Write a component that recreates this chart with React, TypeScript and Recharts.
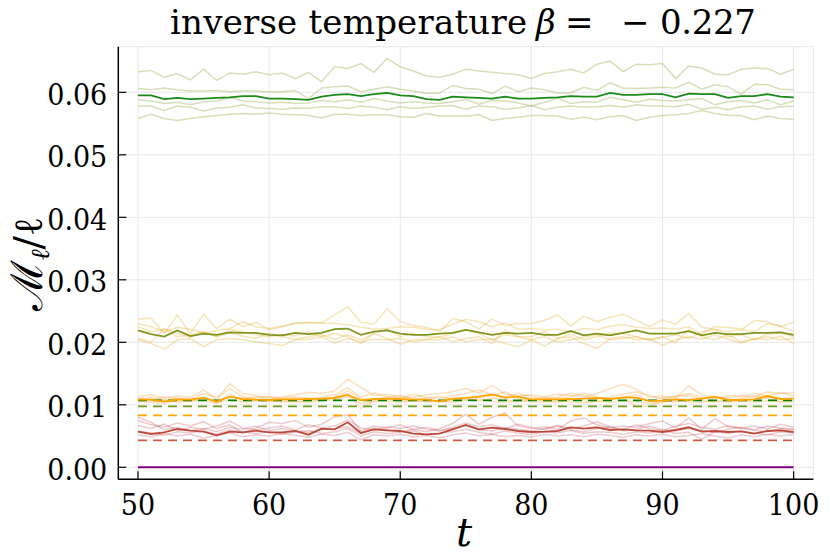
import React from 'react';
import { LineChart, Line, XAxis, YAxis, CartesianGrid, ReferenceLine } from 'recharts';

const T = [
  50, 51, 52, 53, 54, 55, 56, 57, 58, 59,
  60, 61, 62, 63, 64, 65, 66, 67, 68, 69,
  70, 71, 72, 73, 74, 75, 76, 77, 78, 79,
  80, 81, 82, 83, 84, 85, 86, 87, 88, 89,
  90, 91, 92, 93, 94, 95, 96, 97, 98, 99, 100,
];

// green group
const G0 = [
  0.0595, 0.0595, 0.0589, 0.0591, 0.0589, 0.0590, 0.0591, 0.0592, 0.0594, 0.0594,
  0.0590, 0.0590, 0.0589, 0.0588, 0.0593, 0.0596, 0.0597, 0.0594, 0.0597, 0.0599,
  0.0595, 0.0594, 0.0589, 0.0588, 0.0593, 0.0592, 0.0591, 0.0590, 0.0593, 0.0590,
  0.0590, 0.0591, 0.0592, 0.0594, 0.0593, 0.0593, 0.0599, 0.0596, 0.0596, 0.0597,
  0.0597, 0.0592, 0.0598, 0.0597, 0.0597, 0.0591, 0.0594, 0.0594, 0.0597, 0.0593, 0.0592,
];
const G1 = [
  0.0633, 0.0635, 0.0624, 0.0630, 0.0620, 0.0637, 0.0619, 0.0631, 0.0629, 0.0633,
  0.0628, 0.0631, 0.0622, 0.0632, 0.0617, 0.0641, 0.0638, 0.0646, 0.0632, 0.0654,
  0.0641, 0.0634, 0.0626, 0.0624, 0.0629, 0.0637, 0.0634, 0.0632, 0.0630, 0.0628,
  0.0622, 0.0630, 0.0633, 0.0637, 0.0631, 0.0645, 0.0650, 0.0633, 0.0645, 0.0644,
  0.0646, 0.0622, 0.0642, 0.0639, 0.0629, 0.0628, 0.0637, 0.0639, 0.0638, 0.0629, 0.0637,
];
const G2 = [
  0.0606, 0.0604, 0.0607, 0.0604, 0.0602, 0.0602, 0.0603, 0.0601, 0.0602, 0.0602,
  0.0601, 0.0601, 0.0603, 0.0590, 0.0607, 0.0609, 0.0610, 0.0601, 0.0605, 0.0609,
  0.0605, 0.0602, 0.0598, 0.0599, 0.0611, 0.0606, 0.0605, 0.0598, 0.0610, 0.0601,
  0.0607, 0.0604, 0.0599, 0.0599, 0.0608, 0.0603, 0.0615, 0.0607, 0.0606, 0.0607,
  0.0608, 0.0607, 0.0616, 0.0605, 0.0612, 0.0609, 0.0597, 0.0613, 0.0612, 0.0605, 0.0604,
];
const G3 = [
  0.0588, 0.0586, 0.0582, 0.0584, 0.0580, 0.0585, 0.0586, 0.0592, 0.0586, 0.0585,
  0.0583, 0.0584, 0.0582, 0.0583, 0.0587, 0.0585, 0.0588, 0.0584, 0.0590, 0.0586,
  0.0583, 0.0585, 0.0583, 0.0582, 0.0585, 0.0589, 0.0581, 0.0587, 0.0586, 0.0583,
  0.0578, 0.0584, 0.0591, 0.0582, 0.0585, 0.0584, 0.0592, 0.0588, 0.0584, 0.0589,
  0.0587, 0.0586, 0.0588, 0.0590, 0.0580, 0.0585, 0.0587, 0.0583, 0.0588, 0.0580, 0.0586,
];
const G4 = [
  0.0578, 0.0578, 0.0571, 0.0578, 0.0576, 0.0570, 0.0575, 0.0576, 0.0580, 0.0575,
  0.0574, 0.0573, 0.0575, 0.0574, 0.0577, 0.0577, 0.0574, 0.0578, 0.0576, 0.0572,
  0.0577, 0.0574, 0.0576, 0.0578, 0.0579, 0.0573, 0.0578, 0.0577, 0.0573, 0.0575,
  0.0579, 0.0572, 0.0576, 0.0578, 0.0576, 0.0577, 0.0579, 0.0576, 0.0580, 0.0578,
  0.0578, 0.0577, 0.0581, 0.0573, 0.0576, 0.0572, 0.0577, 0.0578, 0.0573, 0.0577, 0.0578,
];
const G5 = [
  0.0558, 0.0565, 0.0558, 0.0555, 0.0558, 0.0561, 0.0563, 0.0565, 0.0566, 0.0565,
  0.0567, 0.0565, 0.0564, 0.0563, 0.0559, 0.0565, 0.0565, 0.0563, 0.0564, 0.0564,
  0.0561, 0.0560, 0.0566, 0.0562, 0.0562, 0.0562, 0.0564, 0.0555, 0.0558, 0.0560,
  0.0563, 0.0563, 0.0562, 0.0557, 0.0560, 0.0556, 0.0561, 0.0563, 0.0555, 0.0560,
  0.0563, 0.0564, 0.0566, 0.0571, 0.0566, 0.0563, 0.0563, 0.0556, 0.0562, 0.0558, 0.0557,
];

// olive group
const O0 = [
  0.0219, 0.0213, 0.0209, 0.0219, 0.0210, 0.0214, 0.0212, 0.0216, 0.0215, 0.0215,
  0.0212, 0.0211, 0.0215, 0.0213, 0.0215, 0.0221, 0.0222, 0.0212, 0.0217, 0.0219,
  0.0214, 0.0212, 0.0212, 0.0214, 0.0215, 0.0220, 0.0216, 0.0212, 0.0215, 0.0214,
  0.0215, 0.0212, 0.0212, 0.0218, 0.0211, 0.0214, 0.0211, 0.0215, 0.0219, 0.0214,
  0.0214, 0.0214, 0.0218, 0.0211, 0.0215, 0.0213, 0.0213, 0.0215, 0.0215, 0.0216, 0.0212,
];
const O1 = [
  0.0237, 0.0239, 0.0214, 0.0244, 0.0214, 0.0245, 0.0222, 0.0237, 0.0225, 0.0232,
  0.0220, 0.0225, 0.0231, 0.0231, 0.0231, 0.0244, 0.0257, 0.0232, 0.0229, 0.0254,
  0.0233, 0.0227, 0.0224, 0.0217, 0.0238, 0.0233, 0.0221, 0.0237, 0.0227, 0.0230,
  0.0230, 0.0235, 0.0244, 0.0226, 0.0242, 0.0233, 0.0240, 0.0245, 0.0235, 0.0225,
  0.0236, 0.0229, 0.0246, 0.0224, 0.0221, 0.0217, 0.0220, 0.0235, 0.0233, 0.0225, 0.0232,
];
const O2 = [
  0.0230, 0.0225, 0.0217, 0.0224, 0.0221, 0.0215, 0.0219, 0.0222, 0.0233, 0.0225,
  0.0222, 0.0226, 0.0230, 0.0232, 0.0231, 0.0230, 0.0228, 0.0224, 0.0221, 0.0222,
  0.0225, 0.0224, 0.0221, 0.0220, 0.0229, 0.0237, 0.0233, 0.0225, 0.0231, 0.0221,
  0.0222, 0.0220, 0.0221, 0.0217, 0.0222, 0.0220, 0.0226, 0.0228, 0.0224, 0.0222,
  0.0223, 0.0221, 0.0225, 0.0213, 0.0225, 0.0224, 0.0221, 0.0217, 0.0230, 0.0226, 0.0217,
];
const O3 = [
  0.0206, 0.0201, 0.0222, 0.0214, 0.0208, 0.0217, 0.0209, 0.0215, 0.0210, 0.0206,
  0.0215, 0.0209, 0.0205, 0.0209, 0.0212, 0.0205, 0.0212, 0.0204, 0.0214, 0.0206,
  0.0197, 0.0204, 0.0205, 0.0209, 0.0201, 0.0206, 0.0209, 0.0198, 0.0220, 0.0209,
  0.0204, 0.0209, 0.0201, 0.0204, 0.0208, 0.0212, 0.0204, 0.0206, 0.0209, 0.0203,
  0.0209, 0.0199, 0.0221, 0.0209, 0.0204, 0.0212, 0.0201, 0.0205, 0.0209, 0.0204, 0.0206,
];
const O4 = [
  0.0204, 0.0198, 0.0189, 0.0204, 0.0206, 0.0193, 0.0204, 0.0206, 0.0204, 0.0201,
  0.0198, 0.0195, 0.0204, 0.0205, 0.0209, 0.0199, 0.0206, 0.0201, 0.0205, 0.0204,
  0.0206, 0.0201, 0.0204, 0.0204, 0.0209, 0.0201, 0.0204, 0.0205, 0.0198, 0.0193,
  0.0204, 0.0194, 0.0206, 0.0209, 0.0198, 0.0190, 0.0206, 0.0209, 0.0204, 0.0206,
  0.0195, 0.0204, 0.0209, 0.0205, 0.0212, 0.0205, 0.0199, 0.0206, 0.0204, 0.0210, 0.0198,
];
const O5 = [
  0.0225, 0.0217, 0.0221, 0.0209, 0.0212, 0.0217, 0.0209, 0.0221, 0.0217, 0.0212,
  0.0209, 0.0212, 0.0210, 0.0217, 0.0209, 0.0214, 0.0209, 0.0198, 0.0215, 0.0221,
  0.0209, 0.0214, 0.0209, 0.0208, 0.0214, 0.0220, 0.0214, 0.0204, 0.0212, 0.0209,
  0.0209, 0.0217, 0.0206, 0.0213, 0.0204, 0.0209, 0.0215, 0.0214, 0.0209, 0.0204,
  0.0208, 0.0212, 0.0206, 0.0217, 0.0220, 0.0209, 0.0212, 0.0204, 0.0213, 0.0215, 0.0209,
];

// orange group
const Y0 = [
  0.01082, 0.01082, 0.01050, 0.01082, 0.01082, 0.01114, 0.01050, 0.01130, 0.01093, 0.01082,
  0.01077, 0.01088, 0.01088, 0.01093, 0.01098, 0.01109, 0.01157, 0.01072, 0.01093, 0.01098,
  0.01093, 0.01082, 0.01082, 0.01056, 0.01098, 0.01110, 0.01130, 0.01168, 0.01114, 0.01130,
  0.01088, 0.01088, 0.01088, 0.01093, 0.01098, 0.01109, 0.01093, 0.01120, 0.01114, 0.01060,
  0.01066, 0.01088, 0.01077, 0.01098, 0.01130, 0.01077, 0.01077, 0.01088, 0.01141, 0.01093, 0.01098,
];
const Y1 = [
  0.0113, 0.0116, 0.0110, 0.0114, 0.0112, 0.0124, 0.0108, 0.0134, 0.0118, 0.0115,
  0.0111, 0.0113, 0.0116, 0.0120, 0.0118, 0.0122, 0.0141, 0.0128, 0.0115, 0.0117,
  0.0113, 0.0112, 0.0116, 0.0118, 0.0121, 0.0126, 0.0119, 0.0131, 0.0117, 0.0114,
  0.0116, 0.0113, 0.0117, 0.0115, 0.0112, 0.0118, 0.0126, 0.0133, 0.0125, 0.0112,
  0.0114, 0.0111, 0.0130, 0.0116, 0.0113, 0.0111, 0.0115, 0.0112, 0.0121, 0.0118, 0.0119,
];
const Y2 = [
  0.0110, 0.0108, 0.0113, 0.0110, 0.0109, 0.0118, 0.0112, 0.0126, 0.0113, 0.0110,
  0.0114, 0.0109, 0.0111, 0.0108, 0.0113, 0.0116, 0.0127, 0.0112, 0.0119, 0.0113,
  0.0110, 0.0117, 0.0112, 0.0110, 0.0114, 0.0118, 0.0124, 0.0116, 0.0112, 0.0118,
  0.0113, 0.0110, 0.0112, 0.0119, 0.0115, 0.0110, 0.0113, 0.0117, 0.0121, 0.0115,
  0.0109, 0.0114, 0.0118, 0.0112, 0.0109, 0.0115, 0.0113, 0.0118, 0.0114, 0.0120, 0.0114,
];
const Y3 = [
  0.0106, 0.0104, 0.0102, 0.0107, 0.0105, 0.0112, 0.0104, 0.0117, 0.0106, 0.0108,
  0.0105, 0.0107, 0.0104, 0.0106, 0.0109, 0.0111, 0.0118, 0.0094, 0.0106, 0.0109,
  0.0107, 0.0105, 0.0108, 0.0104, 0.0107, 0.0110, 0.0106, 0.0111, 0.0108, 0.0105,
  0.0109, 0.0106, 0.0104, 0.0108, 0.0106, 0.0105, 0.0109, 0.0111, 0.0097, 0.0098,
  0.0106, 0.0104, 0.0109, 0.0107, 0.0104, 0.0108, 0.0106, 0.0109, 0.0111, 0.0105, 0.0107,
];
const Y4 = [
  0.0109, 0.0112, 0.0106, 0.0111, 0.0108, 0.0110, 0.0106, 0.0113, 0.0110, 0.0113,
  0.0109, 0.0111, 0.0113, 0.0111, 0.0106, 0.0113, 0.0122, 0.0110, 0.0108, 0.0112,
  0.0115, 0.0109, 0.0111, 0.0113, 0.0109, 0.0108, 0.0112, 0.0114, 0.0121, 0.0110,
  0.0107, 0.0112, 0.0110, 0.0113, 0.0119, 0.0112, 0.0108, 0.0112, 0.0116, 0.0107,
  0.0111, 0.0113, 0.0115, 0.0109, 0.0112, 0.0106, 0.0110, 0.0114, 0.0112, 0.0109, 0.0111,
];
const Y5 = [
  0.0104, 0.0107, 0.0109, 0.0104, 0.0106, 0.0107, 0.0102, 0.0109, 0.0104, 0.0106,
  0.0107, 0.0104, 0.0106, 0.0104, 0.0107, 0.0108, 0.0113, 0.0102, 0.0105, 0.0106,
  0.0104, 0.0107, 0.0104, 0.0106, 0.0104, 0.0107, 0.0109, 0.0105, 0.0104, 0.0107,
  0.0105, 0.0104, 0.0107, 0.0105, 0.0103, 0.0106, 0.0104, 0.0107, 0.0105, 0.0102,
  0.0104, 0.0107, 0.0105, 0.0104, 0.0107, 0.0104, 0.0106, 0.0104, 0.0107, 0.0105, 0.0104,
];

// red group
const R0 = [
  0.00570, 0.00533, 0.00560, 0.00613, 0.00586, 0.00570, 0.00512, 0.00570, 0.00560, 0.00586,
  0.00560, 0.00560, 0.00581, 0.00522, 0.00618, 0.00607, 0.00720, 0.00549, 0.00607, 0.00591,
  0.00581, 0.00538, 0.00527, 0.00538, 0.00607, 0.00677, 0.00608, 0.00634, 0.00613, 0.00581,
  0.00565, 0.00570, 0.00581, 0.00640, 0.00618, 0.00640, 0.00597, 0.00608, 0.00592, 0.00586,
  0.00565, 0.00597, 0.00640, 0.00570, 0.00581, 0.00565, 0.00576, 0.00538, 0.00581, 0.00592, 0.00565,
];
const R1 = [
  0.0075, 0.0068, 0.0064, 0.0071, 0.0066, 0.0073, 0.0062, 0.0068, 0.0055, 0.0063,
  0.0072, 0.0070, 0.0075, 0.0064, 0.0069, 0.0081, 0.0084, 0.0058, 0.0066, 0.0063,
  0.0068, 0.0060, 0.0057, 0.0062, 0.0070, 0.0085, 0.0069, 0.0080, 0.0087, 0.0066,
  0.0062, 0.0065, 0.0061, 0.0074, 0.0079, 0.0068, 0.0063, 0.0066, 0.0064, 0.0070,
  0.0074, 0.0063, 0.0079, 0.0061, 0.0078, 0.0065, 0.0063, 0.0066, 0.0061, 0.0069, 0.0064,
];
const R2 = [
  0.0067, 0.0062, 0.0069, 0.0059, 0.0064, 0.0061, 0.0066, 0.0074, 0.0063, 0.0060,
  0.0063, 0.0066, 0.0060, 0.0068, 0.0063, 0.0066, 0.0076, 0.0063, 0.0060, 0.0065,
  0.0062, 0.0066, 0.0061, 0.0058, 0.0064, 0.0071, 0.0065, 0.0068, 0.0062, 0.0069,
  0.0064, 0.0060, 0.0067, 0.0062, 0.0066, 0.0073, 0.0065, 0.0060, 0.0068, 0.0062,
  0.0059, 0.0066, 0.0070, 0.0064, 0.0061, 0.0067, 0.0062, 0.0060, 0.0066, 0.0063, 0.0061,
];
const R3 = [
  0.0058, 0.0055, 0.0051, 0.0057, 0.0055, 0.0058, 0.0053, 0.0060, 0.0057, 0.0054,
  0.0057, 0.0053, 0.0056, 0.0059, 0.0054, 0.0057, 0.0062, 0.0050, 0.0057, 0.0054,
  0.0056, 0.0058, 0.0052, 0.0055, 0.0057, 0.0061, 0.0056, 0.0053, 0.0058, 0.0055,
  0.0052, 0.0057, 0.0055, 0.0059, 0.0054, 0.0057, 0.0056, 0.0053, 0.0057, 0.0055,
  0.0058, 0.0054, 0.0056, 0.0045, 0.0057, 0.0054, 0.0058, 0.0055, 0.0052, 0.0057, 0.0055,
];
const R4 = [
  0.0052, 0.0049, 0.0054, 0.0050, 0.0053, 0.0047, 0.0051, 0.0055, 0.0049, 0.0052,
  0.0050, 0.0054, 0.0051, 0.0048, 0.0053, 0.0051, 0.0056, 0.0044, 0.0052, 0.0050,
  0.0053, 0.0049, 0.0051, 0.0047, 0.0052, 0.0055, 0.0050, 0.0053, 0.0049, 0.0051,
  0.0048, 0.0053, 0.0050, 0.0052, 0.0049, 0.0053, 0.0051, 0.0048, 0.0052, 0.0050,
  0.0053, 0.0049, 0.0051, 0.0054, 0.0050, 0.0047, 0.0052, 0.0049, 0.0053, 0.0050, 0.0052,
];
const R5 = [
  0.0080, 0.0072, 0.0060, 0.0064, 0.0058, 0.0062, 0.0057, 0.0064, 0.0061, 0.0066,
  0.0059, 0.0062, 0.0058, 0.0056, 0.0060, 0.0062, 0.0065, 0.0054, 0.0063, 0.0060,
  0.0057, 0.0061, 0.0064, 0.0059, 0.0062, 0.0066, 0.0060, 0.0058, 0.0063, 0.0061,
  0.0058, 0.0062, 0.0066, 0.0060, 0.0057, 0.0062, 0.0065, 0.0058, 0.0061, 0.0066,
  0.0060, 0.0058, 0.0062, 0.0059, 0.0056, 0.0061, 0.0064, 0.0059, 0.0057, 0.0062, 0.0060,
];

// constant reference levels (dashed) and the zero series
const DASH_LEVELS = [0.01072, 0.00976, 0.00832, 0.00432];
const DASH_COLORS = ['#008000', '#6f9c1f', '#ffa500', '#cd5a45'];
const ZERO_LEVEL = 0;

const X_TICKS = [50, 60, 70, 80, 90, 100];
const Y_TICKS = [0, 0.01, 0.02, 0.03, 0.04, 0.05, 0.06];
const X_DOMAIN = [48.5, 101.5];
const Y_DOMAIN = [-0.00192, 0.0673];

const rows = T.map((t, i) => ({
  t,
  g0: G0[i], g1: G1[i], g2: G2[i], g3: G3[i], g4: G4[i], g5: G5[i],
  o0: O0[i], o1: O1[i], o2: O2[i], o3: O3[i], o4: O4[i], o5: O5[i],
  y0: Y0[i], y1: Y1[i], y2: Y2[i], y3: Y3[i], y4: Y4[i], y5: Y5[i],
  r0: R0[i], r1: R1[i], r2: R2[i], r3: R3[i], r4: R4[i], r5: R5[i],
}));

const FONT = "'DejaVu Serif Condensed', 'DejaVu Serif'";
const TFONT = 'DejaVu Serif';

const LIGHT = [
  { keys: ['g1', 'g2', 'g3', 'g4', 'g5'], color: '#9cb050', op: 0.4 },
  { keys: ['o1', 'o2', 'o3', 'o4', 'o5'], color: '#e6b840', op: 0.36 },
  { keys: ['y1', 'y2', 'y3', 'y4', 'y5'], color: '#f8a848', op: 0.36 },
  { keys: ['r1', 'r2', 'r3', 'r4', 'r5'], color: '#c8525e', op: 0.3 },
];
const MAIN = [
  { key: 'g0', color: '#1a8a1a' },
  { key: 'o0', color: '#80961e' },
  { key: 'y0', color: '#ffa500' },
  { key: 'r0', color: '#bb4a3c' },
];

function YTick(props: any) {
  const { x, y, payload } = props;
  return (
    <g>
      <line x1={x} x2={x + 8} y1={y} y2={y} stroke="#000" strokeWidth={1.2} />
      <text x={x - 11} y={y + 12.5} textAnchor="end" fontFamily={FONT} fontSize={30} fill="#000">
        {Number(payload.value).toFixed(2)}
      </text>
    </g>
  );
}

function XTick(props: any) {
  const { x, y, payload } = props;
  return (
    <g>
      <line x1={x} x2={x} y1={y} y2={y - 8} stroke="#000" strokeWidth={1.2} />
      <text x={x} y={y + 36} textAnchor="middle" fontFamily={FONT} fontSize={30} fill="#000">
        {payload.value}
      </text>
    </g>
  );
}

export default function App() {
  return (
    <div style={{ position: 'absolute', left: 0, top: 0, width: 830, height: 554, background: '#fff' }}>
      <LineChart
        width={830}
        height={554}
        data={rows}
        margin={{ top: 46.7, right: 16.7, left: 18.3, bottom: 14.7 }}
      >
        <CartesianGrid stroke="#e8e8e8" strokeWidth={1} />
        <XAxis
          dataKey="t"
          type="number"
          domain={X_DOMAIN}
          ticks={X_TICKS}
          allowDataOverflow
          height={60}
          tickSize={0}
          tickMargin={0}
          tickLine={false}
          axisLine={{ stroke: '#000', strokeWidth: 1.5 }}
          tick={<XTick />}
        />
        <YAxis
          type="number"
          domain={Y_DOMAIN}
          ticks={Y_TICKS}
          allowDataOverflow
          width={100}
          tickSize={0}
          tickMargin={0}
          tickLine={false}
          axisLine={{ stroke: '#000', strokeWidth: 1.5 }}
          tick={<YTick />}
        />
        {LIGHT.flatMap((grp) =>
          grp.keys.map((k) => (
            <Line
              key={k}
              type="linear"
              dataKey={k}
              stroke={grp.color}
              strokeOpacity={grp.op}
              strokeWidth={1.5}
              dot={false}
              activeDot={false}
              isAnimationActive={false}
            />
          ))
        )}
        {DASH_LEVELS.map((v, i) => (
          <ReferenceLine
            key={'d' + i}
            segment={[{ x: T[0], y: v }, { x: T[T.length - 1], y: v }]}
            stroke={DASH_COLORS[i]}
            strokeWidth={1.8}
            strokeDasharray="9 6"
          />
        ))}
        <ReferenceLine
          segment={[{ x: T[0], y: ZERO_LEVEL }, { x: T[T.length - 1], y: ZERO_LEVEL }]}
          stroke="#800080"
          strokeWidth={2}
        />
        {MAIN.map((m) => (
          <Line
            key={m.key}
            type="linear"
            dataKey={m.key}
            stroke={m.color}
            strokeWidth={1.8}
            dot={false}
            activeDot={false}
            isAnimationActive={false}
          />
        ))}
      </LineChart>
      <svg
        width={830}
        height={554}
        style={{ position: 'absolute', left: 0, top: 0, pointerEvents: 'none' }}
      >
        <g fontFamily={TFONT} fill="#000" fontSize={34}>
          <text x={170} y={34} textLength={357} lengthAdjust="spacing">inverse temperature</text>
          <text x={536} y={34} fontStyle="italic">β</text>
          <text x={565} y={34}>=</text>
          <text x={621} y={34}>−</text>
          <text x={660} y={34} textLength={96} lengthAdjust="spacing">0.227</text>
        </g>
        <text x={464} y={546} fontFamily={TFONT} fontSize={40} fontStyle="italic" textAnchor="middle">t</text>
        <text
          transform="translate(42,264) rotate(-90)"
          textAnchor="middle"
          fontFamily="DejaVu Serif"
          fill="#000"
        >
          <tspan fontSize={44}>ℳ</tspan>
          <tspan fontSize={26} dy={7} fontStyle="italic">ℓ</tspan>
          <tspan fontSize={40} dy={-7}>/ℓ</tspan>
        </text>
      </svg>
    </div>
  );
}
